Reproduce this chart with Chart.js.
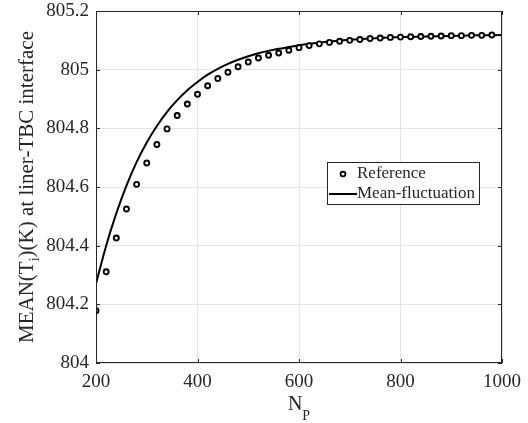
<!DOCTYPE html>
<html>
<head>
<meta charset="utf-8">
<script src="https://cdn.jsdelivr.net/npm/chart.js@4.4.0/dist/chart.umd.min.js"></script>
<style>
  html, body { margin: 0; padding: 0; background: #fff; }
  #wrap { width: 528px; height: 423px; position: relative; }
</style>
</head>
<body>
<div id="wrap"><canvas id="chart" width="528" height="423"></canvas></div>
<script>
// ─── data ───
const refN = [200,220,240,260,280,300,320,340,360,380,400,420,440,460,480,500,520,540,560,580,
              600,620,640,660,680,700,720,740,760,780,800,820,840,860,880,900,920,940,960,980];
const refT = [804.178,804.311,804.426,804.525,804.609,804.682,804.745,804.798,804.844,804.883,
              804.916,804.945,804.970,804.991,805.010,805.026,805.040,805.049,805.057,805.066,
              805.075,805.082,805.088,805.093,805.097,805.100,805.103,805.106,805.108,805.110,
              805.111,805.112,805.113,805.114,805.115,805.116,805.116,805.117,805.117,805.118];

const fitN = [200,220,240,260,280,300,320,340,360,380,400,420,440,460,480,500,520,540,560,580,
              600,620,640,660,680,700,750,800,850,900,950,1000];
const fitT = [804.270,804.400,804.510,804.605,804.685,804.752,804.808,804.856,804.896,804.930,
              804.958,804.983,805.003,805.020,805.034,805.046,805.056,805.064,805.071,805.077,
              805.083,805.088,805.092,805.096,805.099,805.102,805.107,805.111,805.113,805.115,
              805.117,805.118];

const xTicks = [200, 400, 600, 800, 1000];
const yTicks = [804, 804.2, 804.4, 804.6, 804.8, 805, 805.2];

const SERIES = ['Reference', 'Mean-fluctuation'];
const FONT = "'Liberation Serif', serif";
const INK = '#262626';

// ─── plugin: box, inward ticks, axis titles with subscripts, legend ───
const decor = {
  id: 'decor',
  afterDraw(chart) {
    const { ctx, chartArea: a, scales } = chart;
    const x = scales.x, y = scales.y;
    ctx.save();

    // box
    ctx.strokeStyle = INK;
    ctx.lineWidth = 1;
    ctx.strokeRect(a.left + 0.5, a.top + 0.5, a.right - a.left - 1, a.bottom - a.top - 1);

    // inward ticks on all four sides
    ctx.beginPath();
    xTicks.forEach(v => {
      const px = Math.round(x.getPixelForValue(v)) + 0.5;
      ctx.moveTo(px, a.bottom); ctx.lineTo(px, a.bottom - 4);
      ctx.moveTo(px, a.top);    ctx.lineTo(px, a.top + 4);
    });
    yTicks.forEach(v => {
      const py = Math.round(y.getPixelForValue(v)) + 0.5;
      ctx.moveTo(a.left, py);  ctx.lineTo(a.left + 4, py);
      ctx.moveTo(a.right, py); ctx.lineTo(a.right - 4, py);
    });
    ctx.stroke();

    ctx.fillStyle = INK;
    ctx.textBaseline = 'alphabetic';
    ctx.textAlign = 'left';

    // x title: N_P
    ctx.font = '20px ' + FONT;
    const wN = ctx.measureText('N').width;
    ctx.font = '14px ' + FONT;
    const wP = ctx.measureText('P').width;
    const cx = (a.left + a.right) / 2;
    const sx = cx - (wN + wP) / 2;
    ctx.font = '20px ' + FONT;
    ctx.fillText('N', sx, 410);
    ctx.font = '14px ' + FONT;
    ctx.fillText('P', sx + wN, 420);

    // y title: MEAN(T_i)(K) at liner-TBC interface
    const p1 = 'MEAN(T', p2 = 'i', p3 = ')(K) at liner-TBC interface';
    ctx.font = '21px ' + FONT;
    const w1 = ctx.measureText(p1).width, w3 = ctx.measureText(p3).width;
    ctx.font = '14px ' + FONT;
    const w2 = ctx.measureText(p2).width;
    ctx.translate(33, (a.top + a.bottom) / 2);
    ctx.rotate(-Math.PI / 2);
    const tx = -(w1 + w2 + w3) / 2;
    ctx.font = '21px ' + FONT;
    ctx.fillText(p1, tx, 0);
    ctx.font = '14px ' + FONT;
    ctx.fillText(p2, tx + w1, 6);
    ctx.font = '21px ' + FONT;
    ctx.fillText(p3, tx + w1 + w2, 0);
    ctx.setTransform(1, 0, 0, 1, 0, 0);

    // legend
    const lx = 327.5, ly = 162.5, lw = 152, lh = 42;
    ctx.fillStyle = '#fff';
    ctx.fillRect(lx, ly, lw, lh);
    ctx.strokeStyle = INK;
    ctx.lineWidth = 1;
    ctx.strokeRect(lx, ly, lw, lh);
    ctx.beginPath();
    ctx.arc(343, 174, 2.4, 0, Math.PI * 2);
    ctx.lineWidth = 1.8;
    ctx.strokeStyle = '#000';
    ctx.stroke();
    ctx.beginPath();
    ctx.moveTo(329, 194); ctx.lineTo(357, 194);
    ctx.lineWidth = 2;
    ctx.stroke();
    ctx.fillStyle = INK;
    ctx.font = '17px ' + FONT;
    ctx.textBaseline = 'middle';
    ctx.fillText(SERIES[0], 357, 174);
    ctx.fillText(SERIES[1], 357, 194);

    ctx.restore();
  }
};

new Chart(document.getElementById('chart'), {
  type: 'line',
  data: {
    datasets: [
      {
        label: SERIES[1],
        data: fitN.map((n, i) => ({ x: n, y: fitT[i] })),
        borderColor: '#000',
        borderWidth: 2,
        pointRadius: 0,
        cubicInterpolationMode: 'monotone',
        fill: false,
        order: 2,
      },
      {
        label: SERIES[0],
        data: refN.map((n, i) => ({ x: n, y: refT[i] })),
        showLine: false,
        pointRadius: 2.5,
        pointBorderWidth: 1.9,
        pointBorderColor: '#000',
        pointBackgroundColor: '#fff',
        order: 1,
      },
    ],
  },
  options: {
    responsive: false,
    animation: false,
    events: [],
    layout: { padding: { left: 0, top: 11, right: 26, bottom: 0 } },
    plugins: { legend: { display: false }, tooltip: { enabled: false } },
    scales: {
      x: {
        type: 'linear',
        min: 200, max: 1000,
        afterFit: s => { s.height = 60; s.paddingLeft = 0; s.paddingRight = 0; },
        afterBuildTicks: s => { s.ticks = xTicks.map(v => ({ value: v })); },
        grid: { color: '#e3e3e3', drawTicks: false },
        border: { display: false },
        ticks: {
          color: INK, padding: 8,
          font: { family: FONT, size: 19 },
          maxRotation: 0,
          callback: v => String(v),
        },
      },
      y: {
        min: 804, max: 805.2,
        afterFit: s => { s.width = 96; s.paddingTop = 0; s.paddingBottom = 0; },
        afterBuildTicks: s => { s.ticks = yTicks.map(v => ({ value: v })); },
        grid: { color: '#e3e3e3', drawTicks: false },
        border: { display: false },
        ticks: {
          color: INK, padding: 7,
          font: { family: FONT, size: 19 },
          callback: v => String(Math.round(v * 10) / 10),
        },
      },
    },
  },
  plugins: [decor],
});
</script>
</body>
</html>
